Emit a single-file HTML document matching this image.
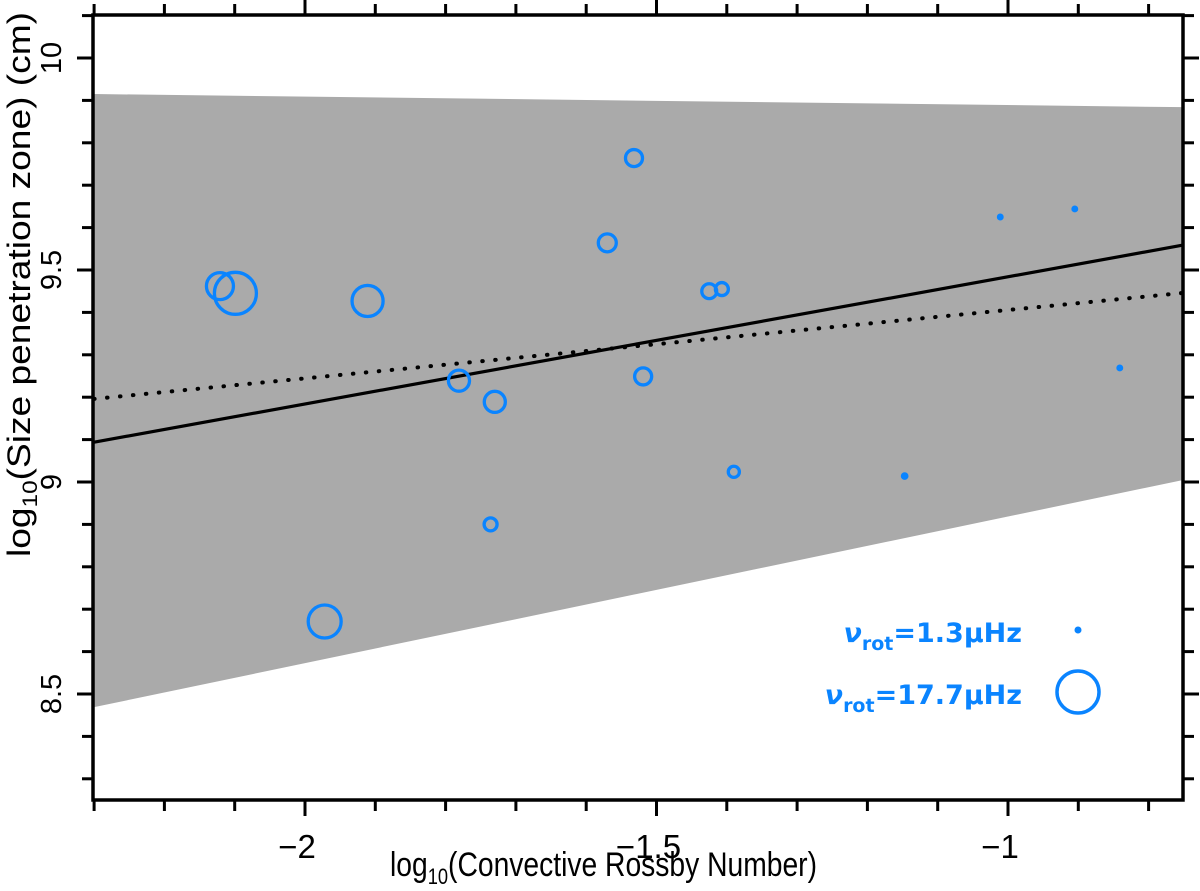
<!DOCTYPE html>
<html><head><meta charset="utf-8"><style>
html,body{margin:0;padding:0;background:#fff;}
svg{display:block;font-family:"Liberation Sans Narrow","Liberation Sans",sans-serif;}
</style></head><body>
<svg id="chart" width="1200" height="891" viewBox="0 0 1200 891" xmlns="http://www.w3.org/2000/svg">
<g id="band"></g>
<g id="lines"></g>
<g id="points"></g>
<g id="axes"></g>
<text x="390" y="876" font-size="34" textLength="427" lengthAdjust="spacingAndGlyphs">log<tspan font-size="22" dy="8">10</tspan><tspan dy="-8">(Convective Rossby Number)</tspan></text>
<text transform="translate(30,557) rotate(-90)" font-size="32" textLength="545" lengthAdjust="spacingAndGlyphs">log<tspan font-size="21" dy="7">10</tspan><tspan dy="-7">(Size penetration zone) (cm)</tspan></text>
<g fill="#0a84ff" font-size="27" font-weight="bold">
<text x="1022" y="642" text-anchor="end" font-family="DejaVu Sans, sans-serif"><tspan font-style="italic">ν</tspan><tspan font-size="19" dy="8">rot</tspan><tspan dy="-8">=1.3μHz</tspan></text>
<text x="1022" y="704" text-anchor="end" font-family="DejaVu Sans, sans-serif"><tspan font-style="italic">ν</tspan><tspan font-size="19" dy="8">rot</tspan><tspan dy="-8">=17.7μHz</tspan></text>
<circle cx="1078" cy="630" r="3.5"/>
<circle cx="1078" cy="692" r="21" fill="none" stroke="#0a84ff" stroke-width="3.5"/>
</g>
</svg>
<script>
const xVals=[-2.121,-2.099,-1.911,-1.781,-1.730,-1.736,-1.972,-1.532,-1.570,-1.519,-1.425,-1.407,-1.390,-1.147,-1.011,-0.905,-0.841];
const yVals=[9.462,9.445,9.427,9.239,9.189,8.900,8.671,9.764,9.564,9.249,9.450,9.455,9.024,9.014,9.625,9.644,9.269];
const nuRot=[11.4,17.7,13.1,8.9,8.9,5.5,13.9,7.2,7.6,7.2,6.3,5.5,4.7,1.9,1.3,1.3,1.3];
const bandUpper=[9.915,9.884];
const bandLower=[8.469,9.005];
const fitSolid=[9.094,9.559];
const fitDotted=[9.196,9.446];
const xRange=[-2.3,-0.75];
const xTicks=[-2,-1.5,-1];
const xTickLabels=["\u22122","\u22121.5","\u22121"];
const yTicks=[8.5,9,9.5,10];
const yTickLabels=["8.5","9","9.5","10"];

const NS="http://www.w3.org/2000/svg";
const X0=93,X1=1183,Y0=15,Y1=800;
function xs(v){return 305+(v+2)*703;}
function ys(v){return 482-(v-9)*424;}
function rs(nu){return 3+(nu-1.3)/16.4*19.5;}
function mk(tag,attrs,parent){const e=document.createElementNS(NS,tag);for(const k in attrs)e.setAttribute(k,attrs[k]);parent.appendChild(e);return e;}

const band=document.getElementById('band');
const poly=mk('polygon',{points:`${xs(xRange[0])},${ys(bandUpper[0])} ${xs(xRange[1])},${ys(bandUpper[1])} ${xs(xRange[1])},${ys(bandLower[1])} ${xs(xRange[0])},${ys(bandLower[0])}`,fill:'#aaaaaa'},band);



const lines=document.getElementById('lines');
const ls=mk('line',{x1:xs(xRange[0]),y1:ys(fitSolid[0]),x2:xs(xRange[1]),y2:ys(fitSolid[1]),stroke:'#000','stroke-width':3.2},lines);


const ld=mk('line',{x1:xs(xRange[0]),y1:ys(fitDotted[0]),x2:xs(xRange[1]),y2:ys(fitDotted[1]),stroke:'#000','stroke-width':4,'stroke-dasharray':'0.5 12.5','stroke-linecap':'round'},lines);



const pts=document.getElementById('points');
for(let i=0;i<xVals.length;i++){
  const r=rs(nuRot[i]);
  const c=mk('circle',{cx:xs(xVals[i]),cy:ys(yVals[i]),r:Math.max(r-1.5,1.8),fill:r<4.5?'#0a84ff':'none',stroke:'#0a84ff','stroke-width':3.3},pts);
  
  
}

const ax=document.getElementById('axes');
const fr=mk('rect',{x:X0,y:Y0,width:X1-X0,height:Y1-Y0,fill:'none',stroke:'#000','stroke-width':3.5},ax);


for(let k=-23;k<=-8;k++){
  const v=k/10, x=xs(v); const major=(k%5===0); const L=major?16:11;
  const t1=mk('line',{x1:x,y1:Y1,x2:x,y2:Y1+L,stroke:'#000','stroke-width':3},ax);
  
  
  const t2=mk('line',{x1:x,y1:Y0,x2:x,y2:Y0-L,stroke:'#000','stroke-width':3},ax);
  
  
}
for(let k=83;k<=101;k++){
  const v=k/10, y=ys(v); const major=(k%5===0); const L=major?16:11;
  const t1=mk('line',{x1:X0,y1:y,x2:X0-L,y2:y,stroke:'#000','stroke-width':3},ax);
  
  
  const t2=mk('line',{x1:X1,y1:y,x2:X1+L,y2:y,stroke:'#000','stroke-width':3},ax);
  
  
}
xTicks.forEach((v,i)=>{
  const t=mk('text',{x:xs(v)-8,y:858,'font-size':33,'text-anchor':'middle'},ax);
  t.textContent=xTickLabels[i];
  
  
});
yTicks.forEach((v,i)=>{
  const t=mk('text',{transform:`translate(61,${ys(v)}) rotate(-90)`,'font-size':29,'text-anchor':'middle'},ax);
  t.textContent=yTickLabels[i];
  
  
});
</script>
</body></html>
